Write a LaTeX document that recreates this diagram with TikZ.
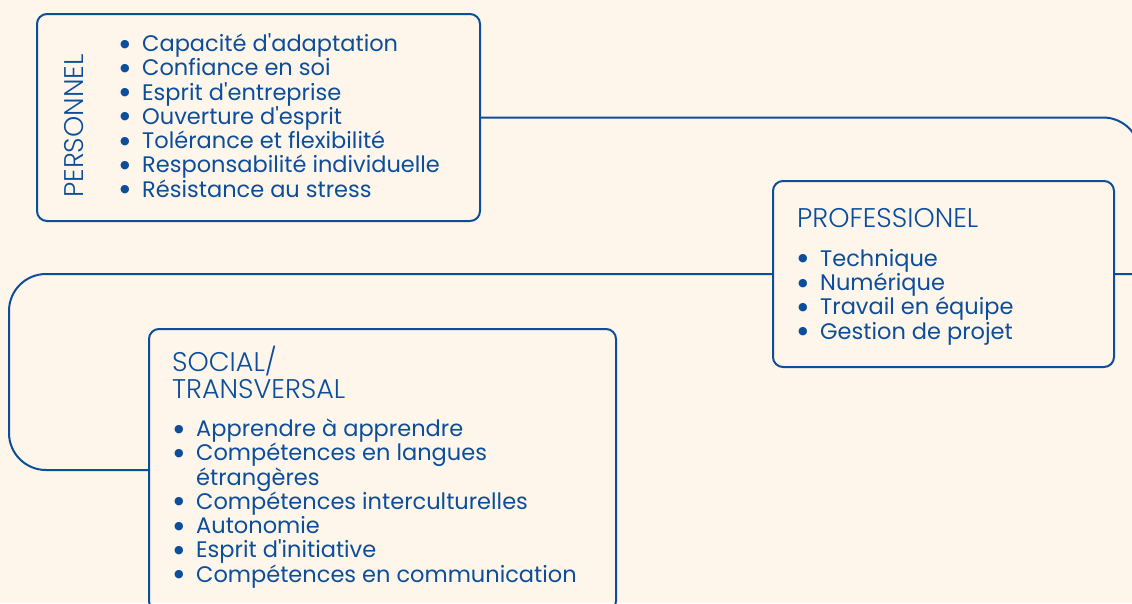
\documentclass[tikz,border=0pt]{standalone}
\usepackage{fontspec}
\setmainfont{Poppins}[Ligatures=TeXOff]
\newfontfamily\lightfont{Poppins Light}[Ligatures=TeXOff]
\newfontfamily\dotfont{DejaVu Sans}
\usetikzlibrary{positioning}
\definecolor{bluetxt}{RGB}{12,78,155}
\definecolor{bgcream}{RGB}{254,246,234}
\newcommand\fixlines{\setlength\lineskiplimit{-100pt}\relax}
\tikzset{
mybox/.style={
  draw=bluetxt,
  line width=2pt,
  rounded corners=10pt,
  inner sep=0pt
  },
mylist/.style={
  anchor=base west,
  inner sep=0pt,
  text=bluetxt,
  align=left,
  font=\fontsize{22.5}{24.25}\selectfont\fixlines
  },
myhead/.style={
  inner sep=0pt,
  text=bluetxt,
  align=left,
  font=\lightfont\fontsize{27}{27}\selectfont\fixlines
  },
link/.style={draw=bluetxt, line width=2pt}
}
\newcommand\bul{\makebox[24pt][l]{\hspace{2pt}\raisebox{4.5pt}{\dotfont\fontsize{11}{11}\selectfont ●}}}
\newcommand\ind{\makebox[24pt]{}}

\begin{document}
\begin{tikzpicture}[x=1pt,y=-1pt]
\useasboundingbox (0,0) rectangle (1132,603);
\clip (0,0) rectangle (1132,603);
\fill[bgcream] (0,0) rectangle (1132,603);

% the three boxes
\node[mybox, minimum width=443pt, minimum height=207pt] (pers) at (258.5,117.5) {};
\node[mybox, minimum width=341pt, minimum height=186pt] (prof) at (943.5,274) {};
\node[mybox, minimum width=467pt, minimum height=282pt] (soc)  at (382.5,470) {};

% personnel (anchored at the last line)
\node[myhead, rotate=90, anchor=base] (persh) at (83,126) {PERSONNEL};
\node[mylist] (persl) at (118,197) {%
  \bul Capacité d'adaptation \\
  \bul Confiance en soi \\
  \bul Esprit d'entreprise \\
  \bul Ouverture d'esprit \\
  \bul Tolérance et flexibilité \\
  \bul Responsabilité individuelle \\
  \bul Résistance au stress};

% professionel
\node[myhead, anchor=base west] (profh) at (797,227) {PROFESSIONEL};
\node[mylist] (profl) at (796,339) {%
  \bul Technique \\
  \bul Numérique \\
  \bul Travail en équipe \\
  \bul Gestion de projet};

% social / transversal
\node[myhead, anchor=base west] (soch) at (172,398) {SOCIAL/\\TRANSVERSAL};
\node[mylist] (socl) at (172,582) {%
  \bul Apprendre à apprendre \\
  \bul Compétences en langues \\
  \ind étrangères \\
  \bul Compétences interculturelles \\
  \bul Autonomie \\
  \bul Esprit d'initiative \\
  \bul Compétences en communication};

% connectors
\draw[link, rounded corners=37pt] (pers.east) -- (1140,117.5)
  [rounded corners=6pt] -- (1140,274) -- (prof.east);
\draw[link, rounded corners=37pt] (prof.west) -- (9,274) -- (9,470) -- (soc.west);
\end{tikzpicture}
\end{document}
